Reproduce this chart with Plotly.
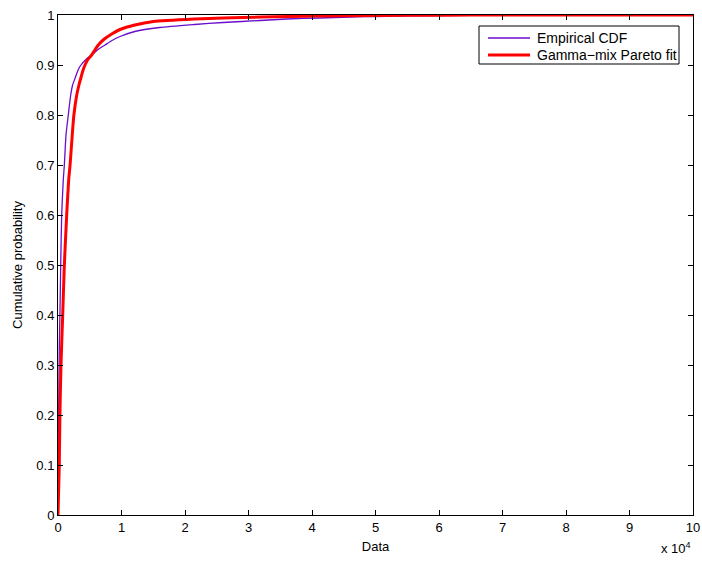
import plotly.graph_objects as go

# Data (x in units of 1e4)
emp_x = [0, 0.005, 0.01, 0.02, 0.03, 0.043, 0.058, 0.083, 0.10, 0.126, 0.162, 0.20, 0.23, 0.27, 0.31, 0.35, 0.44, 0.53,
         0.63, 0.74, 0.85, 0.976, 1.21, 1.6, 2.15, 2.6, 3.18, 3.6, 4.12, 4.6, 5.0, 6.0, 7.0, 8.0, 10.0]
emp_y = [0, 0.1, 0.2, 0.33, 0.4, 0.5, 0.6, 0.67, 0.70, 0.76, 0.80, 0.84, 0.86, 0.874, 0.888, 0.898, 0.911, 0.92,
         0.931, 0.94, 0.949, 0.957, 0.967, 0.975, 0.981, 0.985, 0.989, 0.992, 0.994, 0.996, 0.997, 0.999, 0.9995, 1.0, 1.0]

fit_x = [0, 0.02, 0.03, 0.047, 0.074, 0.10, 0.137, 0.168, 0.19, 0.23, 0.25, 0.295, 0.33, 0.36, 0.39, 0.425, 0.47, 0.53,
         0.58, 0.635, 0.72, 0.846, 0.976, 1.21, 1.5, 2.15, 2.6, 3.2, 4.1, 5.0, 6.0, 7.0, 8.0, 10.0]
fit_y = [0, 0.1, 0.2, 0.3, 0.4, 0.5, 0.6, 0.67, 0.70, 0.77, 0.80, 0.84, 0.86, 0.874, 0.888, 0.90, 0.911, 0.92,
         0.93, 0.94, 0.951, 0.962, 0.971, 0.980, 0.987, 0.992, 0.994, 0.996, 0.998, 0.999, 0.9995, 1.0, 1.0, 1.0]

series_names = ["Empirical CDF", "Gamma\u2212mix Pareto fit"]
series_colors = ["#6A0DCC", "#FF0000"]
series_widths = [1.3, 3]

x_ticks = list(range(0, 11))
y_ticks = [i / 10 for i in range(0, 11)]
y_tick_labels = ["0", "0.1", "0.2", "0.3", "0.4", "0.5", "0.6", "0.7", "0.8", "0.9", "1"]

FONT = "Liberation Sans, Arial, sans-serif"

fig = go.Figure()
for xs, ys, nm, col, w in zip([emp_x, fit_x], [emp_y, fit_y], series_names, series_colors, series_widths):
    fig.add_trace(go.Scatter(x=xs, y=ys, mode="lines", name=nm, showlegend=False,
                             line=dict(color=col, width=w, shape="spline", smoothing=0.6)))

axis_common = dict(showgrid=False, zeroline=False, showline=True, linecolor="black", linewidth=1,
                   mirror="ticks", ticks="inside", ticklen=5, tickcolor="black", tickwidth=1,
                   automargin=False,
                   tickfont=dict(family=FONT, size=13, color="black"))

# Legend drawn in paper coordinates (pixel -> paper conversion for a 635x500 plot area)
L, T, PW, PH = 58, 15, 635, 500
def px(xp):
    return (xp - L) / PW
def py(yp):
    return (T + PH - yp) / PH

shapes = [dict(type="rect", xref="paper", yref="paper", x0=px(479), x1=px(679), y0=py(64), y1=py(26),
               line=dict(color="black", width=1), fillcolor="white", layer="above")]
annotations = []
row_y = [38, 55]
for i, (nm, col, w) in enumerate(zip(series_names, series_colors, series_widths)):
    shapes.append(dict(type="line", xref="paper", yref="paper", x0=px(488), x1=px(530),
                       y0=py(row_y[i]), y1=py(row_y[i]), line=dict(color=col, width=w), layer="above"))
    annotations.append(dict(text=nm, xref="paper", yref="paper", x=px(535), y=py(row_y[i]),
                            xanchor="left", yanchor="middle", showarrow=False,
                            font=dict(family=FONT, size=14, color="black")))

annotations.append(dict(text="x 10<sup>4</sup>", xref="paper", yref="paper", x=1.0, y=-0.066,
                        xanchor="right", yanchor="middle", showarrow=False,
                        font=dict(family=FONT, size=13)))

fig.update_layout(
    width=702, height=563,
    margin=dict(l=58, r=9, t=15, b=48),
    paper_bgcolor="white", plot_bgcolor="white",
    font=dict(family=FONT, size=13, color="black"),
    xaxis=dict(range=[0, 10], tickvals=x_ticks, ticktext=[str(v) for v in x_ticks],
               title=dict(text="Data", font=dict(family=FONT, size=13), standoff=8), **axis_common),
    yaxis=dict(range=[0, 1], tickvals=y_ticks, ticktext=y_tick_labels,
               title=dict(text="Cumulative probability", font=dict(family=FONT, size=13), standoff=10),
               **axis_common),
    showlegend=False,
    shapes=shapes,
    annotations=annotations,
)

fig.write_html("out.html")
